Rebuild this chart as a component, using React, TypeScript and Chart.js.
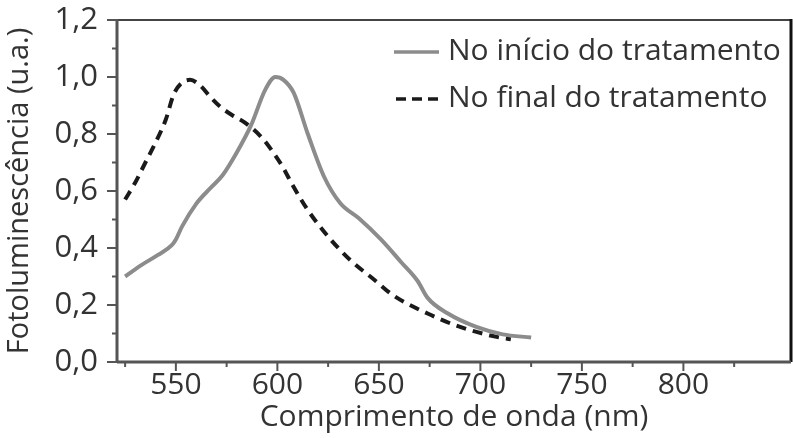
import { useEffect, useRef } from 'react'
import { Chart, registerables } from 'chart.js'

Chart.register(...registerables)

// espectros (nm, u.a.)
const startNm = [525, 533, 541, 548, 550, 553, 560, 567, 573, 580, 587, 594, 599, 603, 608, 615, 623, 631, 640, 651, 661, 669, 674, 684, 698, 711, 725]
const startVal = [0.30, 0.34, 0.375, 0.41, 0.43, 0.475, 0.555, 0.61, 0.655, 0.735, 0.83, 0.955, 1.0, 0.99, 0.945, 0.80, 0.65, 0.557, 0.505, 0.43, 0.35, 0.285, 0.225, 0.17, 0.123, 0.097, 0.086]
const endNm = [525, 530, 535, 540, 545, 549, 553, 557, 562, 567, 572, 578, 584, 592, 598, 603, 607, 615, 625, 636, 648, 657, 674, 690, 708, 715]
const endVal = [0.57, 0.63, 0.70, 0.77, 0.85, 0.94, 0.98, 0.99, 0.97, 0.93, 0.895, 0.865, 0.84, 0.79, 0.735, 0.68, 0.627, 0.533, 0.44, 0.357, 0.287, 0.234, 0.17, 0.123, 0.088, 0.08]

const xMajor = [550, 600, 650, 700, 750, 800]
const xMinor = [525, 575, 625, 675, 725, 775, 825]
const yMajor = [0, 0.2, 0.4, 0.6, 0.8, 1.0, 1.2]
const yMinor = [0.1, 0.3, 0.5, 0.7, 0.9, 1.1]

const seriesLabels = ['No início do tratamento', 'No final do tratamento']
const xTitle = 'Comprimento de onda (nm)'
const yTitle = 'Fotoluminescência (u.a.)'

const FONT = "'Open Sans', sans-serif"
const TEXT = '#333'
const GRAY = '#8c8c8c'
const DARK = '#1a1a1a'

const framePlugin = {
  id: 'frame',
  afterDraw(chart: any) {
    const { ctx, chartArea: a, scales } = chart
    const x = scales.x, y = scales.y
    const line = (x1: number, y1: number, x2: number, y2: number) => {
      ctx.beginPath(); ctx.moveTo(x1, y1); ctx.lineTo(x2, y2); ctx.stroke()
    }
    ctx.save()
    // tick marks (outward)
    ctx.strokeStyle = '#555'
    ctx.lineWidth = 2
    xMajor.forEach(v => { const p = x.getPixelForValue(v); line(p, a.bottom, p, a.bottom + 9) })
    xMinor.forEach(v => { const p = x.getPixelForValue(v); line(p, a.bottom, p, a.bottom + 5) })
    yMajor.forEach(v => { const p = y.getPixelForValue(v); line(a.left, p, a.left - 10, p) })
    yMinor.forEach(v => { const p = y.getPixelForValue(v); line(a.left, p, a.left - 5, p) })

    // frame
    ctx.strokeStyle = '#444'; ctx.lineWidth = 2
    line(a.left, a.top, a.right, a.top)
    ctx.strokeStyle = '#111'; ctx.lineWidth = 3
    line(a.right, a.top - 1, a.right, a.bottom)
    ctx.strokeStyle = '#555'; ctx.lineWidth = 3
    line(a.left, a.top - 1, a.left, a.bottom + 1)
    line(a.left, a.bottom, a.right, a.bottom)

    // legend
    const lx = a.right - 397
    const rows = [a.top + 31, a.top + 78]
    ctx.lineWidth = 3.5
    ctx.strokeStyle = GRAY
    line(lx, rows[0] + 1, lx + 45, rows[0] + 1)
    ctx.strokeStyle = DARK
    ctx.setLineDash([10, 6])
    line(lx + 2, rows[1] + 1, lx + 45, rows[1] + 1)
    ctx.setLineDash([])
    ctx.fillStyle = TEXT
    ctx.font = `30px ${FONT}`
    ctx.textBaseline = 'middle'
    ctx.textAlign = 'left'
    seriesLabels.forEach((t, i) => ctx.fillText(t, lx + 54, rows[i]))
    ctx.restore()
  },
}

export default function App() {
  const canvasRef = useRef<HTMLCanvasElement>(null)
  const chartRef = useRef<Chart | null>(null)

  useEffect(() => {
    document.body.style.margin = '0'
    if (!canvasRef.current) return
    if (chartRef.current) chartRef.current.destroy()

    chartRef.current = new Chart(canvasRef.current, {
      type: 'line',
      data: {
        datasets: [
          {
            label: seriesLabels[0],
            data: startNm.map((n, i) => ({ x: n, y: startVal[i] })),
            borderColor: GRAY,
            borderWidth: 4,
            pointRadius: 0,
            cubicInterpolationMode: 'monotone',
          },
          {
            label: seriesLabels[1],
            data: endNm.map((n, i) => ({ x: n, y: endVal[i] })),
            borderColor: DARK,
            borderWidth: 4,
            borderDash: [10, 7],
            pointRadius: 0,
            cubicInterpolationMode: 'monotone',
          },
        ],
      },
      options: {
        animation: false,
        responsive: true,
        maintainAspectRatio: false,
        layout: { padding: { top: 20, right: 2, left: 0, bottom: 0 } },
        plugins: { legend: { display: false }, tooltip: { enabled: false } },
        scales: {
          x: {
            type: 'linear',
            min: 521,
            max: 853,
            afterBuildTicks: (s: any) => { s.ticks = [...xMajor, ...xMinor].sort((p, q) => p - q).map(v => ({ value: v })) },
            afterFit: (s: any) => { s.height = 76; s.paddingLeft = 0; s.paddingRight = 0 },
            grid: { display: false, drawTicks: false },
            border: { display: false },
            ticks: {
              padding: 5,
              color: TEXT,
              font: { family: FONT, size: 30 },
              maxRotation: 0,
              autoSkip: false,
              callback: (v: any) => (xMajor.includes(Number(v)) ? String(v) : ''),
            },
            title: { display: true, text: xTitle, color: TEXT, font: { family: FONT, size: 30 }, padding: { top: 0, bottom: 3 } },
          },
          y: {
            min: 0,
            max: 1.2,
            afterBuildTicks: (s: any) => { s.ticks = [...yMajor, ...yMinor].sort((p, q) => p - q).map(v => ({ value: v })) },
            afterFit: (s: any) => { s.width = 117; s.paddingTop = 0; s.paddingBottom = 0 },
            grid: { display: false, drawTicks: false },
            border: { display: false },
            ticks: {
              padding: 19,
              color: TEXT,
              font: { family: FONT, size: 31 },
              autoSkip: false,
              callback: (v: any) => {
                const n = Number(v)
                return yMajor.some(m => Math.abs(m - n) < 1e-6) ? n.toFixed(1).replace('.', ',') : ''
              },
            },
            title: { display: true, text: yTitle, color: TEXT, font: { family: FONT, size: 29 }, padding: { top: 2, bottom: 0 } },
          },
        },
      },
      plugins: [framePlugin],
    })

    return () => { chartRef.current?.destroy() }
  }, [])

  return (
    <div style={{ position: 'relative', width: 793, height: 438, background: '#fff' }}>
      <canvas ref={canvasRef} />
    </div>
  )
}
